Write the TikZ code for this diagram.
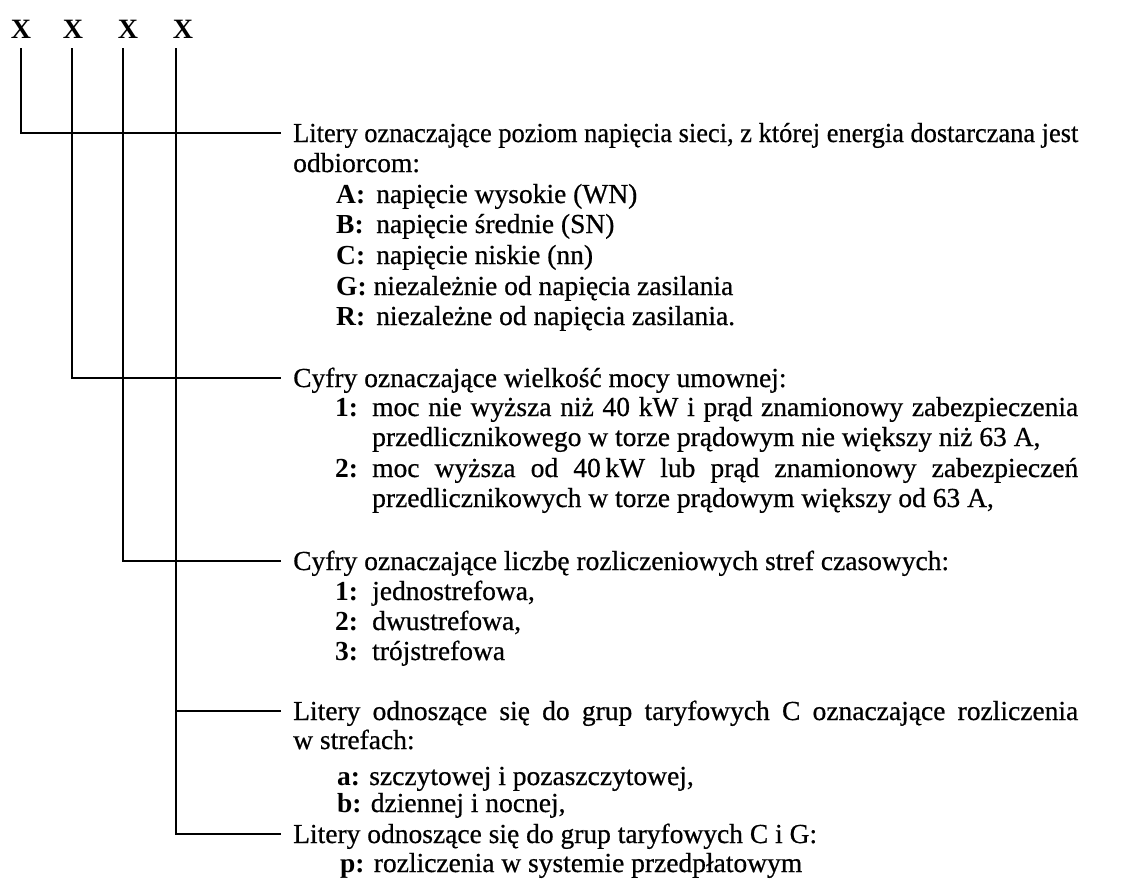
\documentclass[tikz,border=0pt]{standalone}
\usepackage{graphicx}
\usepackage{fontspec}
\setmainfont{Liberation Serif}[UprightFeatures={FakeBold=0.6}]
\begin{document}
\begin{tikzpicture}[x=1pt,y=-1pt]
\tikzset{
  txt/.style={anchor=base west, inner sep=0pt, font=\fontsize{27.5}{30}\selectfont},
  head/.style={txt, inner xsep=13pt, text height=18pt, text depth=0pt},
  xlet/.style={anchor=base, inner sep=0pt, font=\bfseries\fontsize{28}{30}\selectfont},
  lead/.style={line width=2.8pt, line cap=rect},
}
\useasboundingbox (0,0) rectangle (1127,881);
% header letters
\node[xlet] (x1) at (21,38) {X};
\node[xlet] (x2) at (73,38) {X};
\node[xlet] (x3) at (128,38) {X};
\node[xlet] (x4) at (183,38) {X};
\coordinate (v1) at (21,49);
\coordinate (v2) at (72,49);
\coordinate (v3) at (123,49);
\coordinate (v4) at (176,49);
% group 1
\node[head] (t1) at (280,142) {\resizebox{785pt}{\height}{\hbox{Litery oznaczające poziom napięcia sieci, z której energia dostarczana jest}}};
\node[txt] (t1b) at (293,172) {odbiorcom:};
\node[txt] (a1) at (336,203) {\makebox[40pt][l]{\textbf{A:}}napięcie wysokie (WN)};
\node[txt] (a2) at (336,233) {\makebox[40pt][l]{\textbf{B:}}napięcie średnie (SN)};
\node[txt] (a3) at (336,264) {\makebox[40pt][l]{\textbf{C:}}napięcie niskie (nn)};
\node[txt] (a4) at (336,295) {\textbf{G:} niezależnie od napięcia zasilania};
\node[txt] (a5) at (336,325) {\makebox[40pt][l]{\textbf{R:}}niezależne od napięcia zasilania.};
% group 2
\node[head] (t2) at (280,387) {Cyfry oznaczające wielkość mocy umownej:};
\node[txt] (b1) at (335,416) {\makebox[37pt][l]{\textbf{1:}}\hbox to 706pt{moc nie wyższa niż 40 kW i prąd znamionowy zabezpieczenia}};
\node[txt] (b1b) at (372,446) {przedlicznikowego w torze prądowym nie większy niż 63 A,};
\node[txt] (b2) at (335,477) {\makebox[37pt][l]{\textbf{2:}}\hbox to 706pt{moc wyższa od 40\,kW lub prąd znamionowy zabezpieczeń}};
\node[txt] (b2b) at (372,507) {przedlicznikowych w torze prądowym większy od 63 A,};
% group 3
\node[head] (t3) at (280,570) {Cyfry oznaczające liczbę rozliczeniowych stref czasowych:};
\node[txt] (c1) at (335,600) {\makebox[37pt][l]{\textbf{1:}}jednostrefowa,};
\node[txt] (c2) at (335,630) {\makebox[37pt][l]{\textbf{2:}}dwustrefowa,};
\node[txt] (c3) at (335,660) {\makebox[37pt][l]{\textbf{3:}}trójstrefowa};
% group 4
\node[head] (t4) at (280,720) {\hbox to 785pt{Litery odnoszące się do grup taryfowych C oznaczające rozliczenia}};
\node[txt] (t4b) at (293,749) {w strefach:};
\node[txt] (d1) at (337,785) {\textbf{a:} szczytowej i pozaszczytowej,};
\node[txt] (d2) at (337,812) {\textbf{b:} dziennej i nocnej,};
% group 5
\node[head] (t5) at (280,843) {Litery odnoszące się do grup taryfowych C i G:};
\node[txt] (e1) at (340,872) {\textbf{p:} rozliczenia w systemie przedpłatowym};
% leaders
\draw[lead] (v1) |- (t1.west);
\draw[lead] (v2) |- (t2.west);
\draw[lead] (v3) |- (t3.west);
\draw[lead] (v4) |- (t5.west);
\draw[lead] (v4 |- t4.west) -- (t4.west);
\end{tikzpicture}
\end{document}
